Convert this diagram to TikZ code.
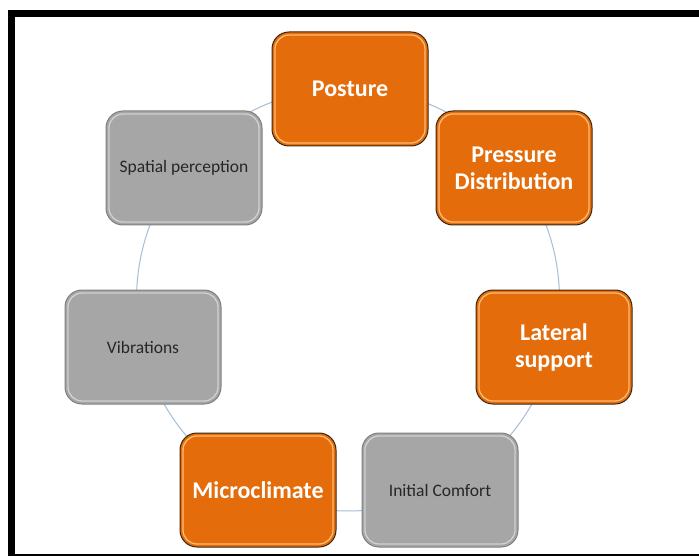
\documentclass[tikz,border=0pt]{standalone}
\usepackage{fontspec}
\setmainfont{Carlito}
\definecolor{boxorange}{RGB}{228,108,10}
\definecolor{boxgray}{RGB}{166,166,166}
\definecolor{ringblue}{RGB}{165,190,215}
\definecolor{txtgray}{RGB}{38,38,38}
\begin{document}
\begin{tikzpicture}[x=1pt,y=-1pt,
  cbox/.style={rounded corners=17pt, minimum width=156pt, minimum height=114pt,
    align=center, inner sep=2pt, line width=1pt,
    path picture={\draw[#1, line width=1.3pt, rounded corners=14pt]
      ([shift={(3pt,-3pt)}]path picture bounding box.north west) rectangle
      ([shift={(-3pt,3pt)}]path picture bounding box.south east);}},
  obox/.style={cbox=orange!55, fill=boxorange, draw=black!70!brown,
    text=white, font=\fontsize{24}{27}\selectfont\bfseries},
  gbox/.style={cbox=black!18, fill=boxgray, draw=black!50,
    text=txtgray, font=\fontsize{17.5}{21}\selectfont},
  ring/.style={draw=ringblue, line width=1pt}
]
\useasboundingbox (0,0) rectangle (699,556);
\fill[white] (0,0) rectangle (699,556);
% frame
\draw[black, line width=7pt] (11.5,13.5) -- (720,13.5);
\draw[black, line width=7pt] (11.5,10) -- (11.5,560);
\draw[black, line width=3pt] (8,555) -- (720,555);
% ring
\coordinate (ctr) at (348,299.5);
\draw[ring] (ctr) circle (211.5);
% nodes
\node[obox] (posture) at (350,89) {Posture};
\node[obox] (pressure) at (514,168) {Pressure\\Distribution};
\node[obox] (lateral) at (554,347) {Lateral\\support};
\node[gbox] (initial) at (440,490) {Initial Comfort};
\node[obox] (micro) at (258,490) {Microclimate};
\node[gbox] (vib) at (143,347) {Vibrations};
\node[gbox] (spatial) at (184,168) {Spatial perception};
\end{tikzpicture}
\end{document}
